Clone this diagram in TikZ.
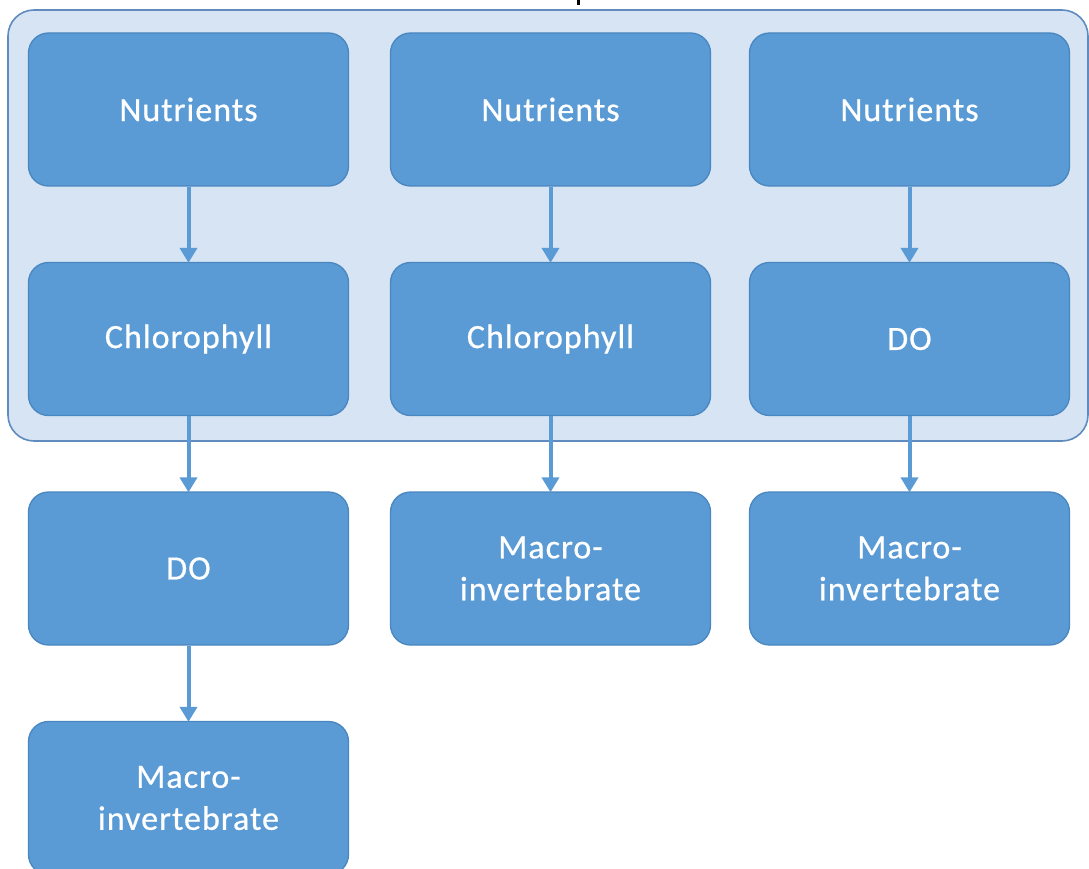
\documentclass[tikz,border=0pt]{standalone}
\usepackage{fontspec}
\setmainfont{Carlito}
\newfontfamily\boxfont[LetterSpace=3,FakeBold=0.6]{Carlito}
\usetikzlibrary{arrows.meta}
\definecolor{boxblue}{HTML}{5B9BD5}
\definecolor{boxedge}{HTML}{4A86C0}
\definecolor{grpfill}{HTML}{D6E4F3}
\definecolor{grpedge}{HTML}{5F8BBE}
\tikzset{
  stepbox/.style={rectangle, rounded corners=20pt, fill=boxblue, draw=boxedge,
    line width=1.3pt, minimum width=320pt, minimum height=153pt, inner sep=0pt,
    text=white, align=center, font=\boxfont\fontsize{34}{42}\selectfont},
  groupbox/.style={rectangle, rounded corners=26pt, fill=grpfill, draw=grpedge,
    line width=1.6pt, minimum width=1080pt, minimum height=431pt, inner sep=0pt},
  link/.style={draw=boxblue, line width=4pt,
    -{Triangle[length=15pt,width=17pt]}, shorten >=-1pt}
}
\begin{document}
\begin{tikzpicture}[x=1pt,y=-1pt]
\useasboundingbox (0,0) rectangle (1089,869);
% shaded group around the first two rows
\node[groupbox] (grp) at (548,225.5) {};
% cut-off glyph of the heading above the group
\fill[black] (576.5,0) rectangle (580,5);
% column 1
\node[stepbox] (n1) at (188.5,109.5) {Nutrients};
\node[stepbox] (c1) at (188.5,339) {Chlorophyll};
\node[stepbox] (d1) at (188.5,568.5) {DO};
\node[stepbox] (m1) at (188.5,798) {Macro-\\invertebrate};
% column 2
\node[stepbox] (n2) at (550.5,109.5) {Nutrients};
\node[stepbox] (c2) at (550.5,339) {Chlorophyll};
\node[stepbox] (m2) at (550.5,568.5) {Macro-\\invertebrate};
% column 3
\node[stepbox] (n3) at (909.5,109.5) {Nutrients};
\node[stepbox] (d3) at (909.5,339) {DO};
\node[stepbox] (m3) at (909.5,568.5) {Macro-\\invertebrate};
% connectors
\draw[link] (n1) -- (c1);
\draw[link] (c1) -- (d1);
\draw[link] (d1) -- (m1);
\draw[link] (n2) -- (c2);
\draw[link] (c2) -- (m2);
\draw[link] (n3) -- (d3);
\draw[link] (d3) -- (m3);
\end{tikzpicture}
\end{document}
